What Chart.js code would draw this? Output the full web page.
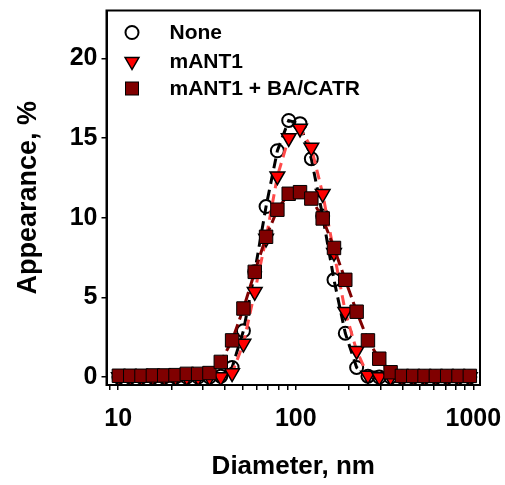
<!DOCTYPE html>
<html>
<head>
<meta charset="utf-8">
<script src="https://cdn.jsdelivr.net/npm/chart.js@4.4.0/dist/chart.umd.min.js"></script>
<style>
  html, body { margin: 0; padding: 0; background: #fff; }
  #wrap { width: 505px; height: 485px; }
</style>
</head>
<body>
<div id="wrap"><canvas id="sizeChart" width="505" height="485"></canvas></div>
<script>
// DLS size classes (nm)
const diameters = [10.1, 11.7, 13.54, 15.69, 18.17, 21.04, 24.36, 28.21, 32.67, 37.84,
  43.82, 50.75, 58.77, 68.06, 78.82, 91.28, 105.7, 122.4, 141.8, 164.2,
  190.1, 220.2, 255.0, 295.3, 342.0, 396.1, 458.7, 531.2, 615.1, 712.4, 825.0, 955.4];

// Appearance, % for each sample
const noneValues = [0, 0, 0, 0, 0, 0, 0, 0, 0, 0.05,
  0.6, 2.9, 6.6, 10.7, 14.2, 16.1, 15.9, 13.7, 10.1, 6.1,
  2.75, 0.6, 0.05, 0, 0, 0, 0, 0, 0, 0, 0, 0];
const mant1Values = [0, 0, 0, 0, 0, 0, 0, 0, 0, 0,
  0.25, 2.1, 5.35, 8.7, 12.6, 15.0, 15.6, 14.4, 11.5, 7.8,
  4.1, 1.65, 0.1, 0, 0, 0, 0, 0, 0, 0, 0, 0];
const mant1BaValues = [0.08, 0.08, 0.08, 0.1, 0.1, 0.12, 0.2, 0.2, 0.25, 0.95,
  2.3, 4.3, 6.6, 8.8, 10.5, 11.5, 11.6, 11.2, 9.95, 8.1,
  6.1, 4.1, 2.3, 1.15, 0.3, 0.07, 0.07, 0.07, 0.07, 0.07, 0.07, 0.07];

const seriesNames = ["None", "mANT1", "mANT1 + BA/CATR"];
const xTickLabels = [10, 100, 1000];
const yTickValues = [0, 5, 10, 15, 20];

const FONT = "'Liberation Sans', Arial, sans-serif";

function toPoints(vals) {
  return diameters.map(function (d, i) { return { x: d, y: vals[i] }; });
}

// Log axis ticks: 9, 10, 20 ... 90, 100, 200 ... 1000
function logTicks() {
  const out = [{ value: 9 }];
  for (let e = 1; e <= 2; e++) {
    for (let m = 1; m <= 9; m++) {
      out.push({ value: Math.round(m * Math.pow(10, e)) });
    }
  }
  out.push({ value: 1000 });
  return out;
}

// Box round the plot and the legend inside it
const framePlugin = {
  id: "frame",
  afterDatasetsDraw: function (chart) {
    const ctx = chart.ctx;
    const a = chart.chartArea;
    ctx.save();
    ctx.strokeStyle = "#000";
    ctx.lineWidth = 2;
    ctx.strokeRect(a.left, a.top, a.right - a.left, a.bottom - a.top);

    // legend
    const mx = a.left + 25.5;
    const tx = a.left + 63;
    const rows = [a.top + 22, a.top + 51, a.top + 78];
    ctx.font = "bold 21px " + FONT;
    ctx.textBaseline = "middle";
    ctx.fillStyle = "#000";

    // circle
    ctx.beginPath();
    ctx.arc(mx, rows[0], 6.5, 0, Math.PI * 2);
    ctx.lineWidth = 2;
    ctx.strokeStyle = "#000";
    ctx.stroke();

    // down triangle
    const r = 8;
    ctx.beginPath();
    ctx.moveTo(mx, rows[1] + r);
    ctx.lineTo(mx - r * 0.866, rows[1] - r * 0.5);
    ctx.lineTo(mx + r * 0.866, rows[1] - r * 0.5);
    ctx.closePath();
    ctx.fillStyle = "#ff0000";
    ctx.fill();
    ctx.lineWidth = 1.5;
    ctx.stroke();

    // square
    ctx.fillStyle = "#800000";
    ctx.fillRect(mx - 6.5, rows[2] - 6.5, 13, 13);
    ctx.lineWidth = 1;
    ctx.strokeRect(mx - 6.5, rows[2] - 6.5, 13, 13);

    ctx.fillStyle = "#000";
    seriesNames.forEach(function (name, i) {
      ctx.fillText(name, tx, rows[i] + 1);
    });
    ctx.restore();
  }
};

const ctx = document.getElementById("sizeChart").getContext("2d");

new Chart(ctx, {
  type: "line",
  data: {
    datasets: [
      {
        label: seriesNames[0],
        data: toPoints(noneValues),
        order: 2,
        borderColor: "#000",
        borderWidth: 3,
        borderDash: [10, 6],
        fill: false,
        tension: 0,
        pointStyle: "circle",
        pointRadius: 6.5,
        pointBackgroundColor: "rgba(0,0,0,0)",
        pointBorderColor: "#000",
        pointBorderWidth: 2
      },
      {
        label: seriesNames[1],
        data: toPoints(mant1Values),
        order: 1,
        borderColor: "#ff4a4a",
        borderWidth: 3,
        borderDash: [10, 6],
        fill: false,
        tension: 0,
        pointStyle: "triangle",
        pointRotation: 180,
        pointRadius: 8.5,
        pointBackgroundColor: "#ff0000",
        pointBorderColor: "#000",
        pointBorderWidth: 1.5
      },
      {
        label: seriesNames[2],
        data: toPoints(mant1BaValues),
        order: 0,
        borderColor: "#800000",
        borderWidth: 3,
        borderDash: [12, 5],
        fill: false,
        tension: 0,
        pointStyle: "rect",
        pointRadius: 9.5,
        pointBackgroundColor: "#800000",
        pointBorderColor: "#000",
        pointBorderWidth: 1
      }
    ]
  },
  options: {
    responsive: false,
    animation: false,
    devicePixelRatio: 1,
    layout: { padding: { top: 10, right: 25, left: 0, bottom: 0 } },
    plugins: {
      legend: { display: false },
      tooltip: { enabled: false }
    },
    scales: {
      x: {
        type: "logarithmic",
        position: "bottom",
        min: 8.6,
        max: 1090,
        afterBuildTicks: function (scale) {
          scale.ticks = logTicks();
        },
        afterFit: function (scale) {
          scale.height = 100;
          scale.paddingLeft = 0;
          scale.paddingRight = 0;
        },
        grid: {
          display: true,
          drawOnChartArea: false,
          drawTicks: true,
          tickLength: 5,
          color: "#000",
          lineWidth: 1.5
        },
        border: { display: true, color: "#000", width: 2 },
        ticks: {
          autoSkip: false,
          maxRotation: 0,
          padding: 14,
          color: "#000",
          font: { family: FONT, size: 25, weight: "bold" },
          callback: function (value) {
            return xTickLabels.indexOf(value) >= 0 ? String(value) : "";
          }
        },
        title: {
          display: true,
          text: "Diameter, nm",
          color: "#000",
          font: { family: FONT, size: 26, weight: "bold" },
          padding: { top: 0, bottom: 3 }
        }
      },
      y: {
        min: -0.5,
        max: 23,
        afterBuildTicks: function (scale) {
          scale.ticks = yTickValues.map(function (v) { return { value: v }; });
        },
        afterFit: function (scale) {
          scale.width = 106.5;
          scale.paddingTop = 0;
          scale.paddingBottom = 0;
        },
        grid: {
          display: true,
          drawOnChartArea: false,
          drawTicks: true,
          tickLength: 5,
          color: "#000",
          lineWidth: 1.5
        },
        border: { display: true, color: "#000", width: 2 },
        ticks: {
          padding: 4,
          color: "#000",
          font: { family: FONT, size: 25, weight: "bold" }
        },
        title: {
          display: true,
          text: "Appearance, %",
          color: "#000",
          font: { family: FONT, size: 27, weight: "bold" },
          padding: { top: 12, bottom: 0 }
        }
      }
    }
  },
  plugins: [framePlugin]
});
</script>
</body>
</html>
